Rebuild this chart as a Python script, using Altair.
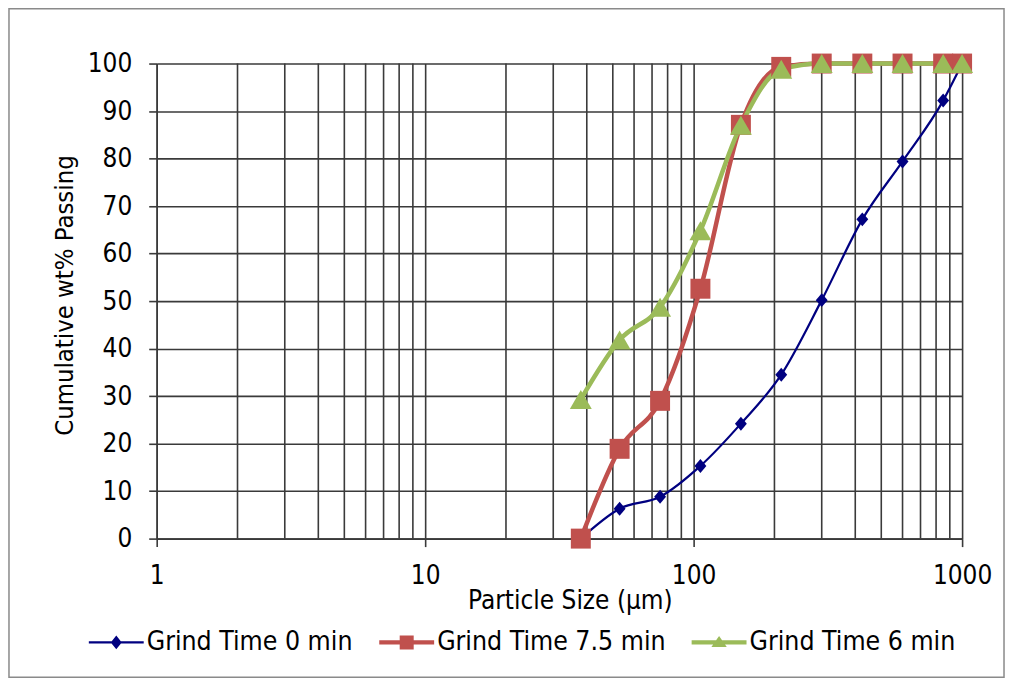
import altair as alt
import pandas as pd

# ---- data ----
sizes_um = [38, 53, 75, 106, 150, 212, 300, 425, 600, 850, 1000]
grind_0 = [0, 6.3, 8.8, 15.3, 24.2, 34.5, 50.2, 67.2, 79.4, 92.2, 100]
grind_7_5 = [0, 18.9, 29.0, 52.6, 87.1, 99.3, 100, 100, 100, 100, 100]
grind_6 = [29.3, 41.8, 48.7, 64.8, 87.0, 98.8, 100, 100, 100, 100, 100]
series_names = ["Grind Time 0 min", "Grind Time 7.5 min", "Grind Time 6 min"]
series_values = [grind_0, grind_7_5, grind_6]
y_ticks = list(range(0, 101, 10))
x_major = [1, 10, 100, 1000]
x_minor = [2, 3, 4, 5, 6, 7, 8, 9, 20, 30, 40, 50, 60, 70, 80, 90,
           200, 300, 400, 500, 600, 700, 800, 900]

rows = []
for name, vals in zip(series_names, series_values):
    for s, v in zip(sizes_um, vals):
        rows.append({"series": name, "size": s, "value": v})
df = pd.DataFrame(rows)
minor_df = pd.DataFrame({"size": x_minor})

# ---- styles ----
FONT = "DejaVu Sans Condensed"
GRID = "#3a3a3a"
GW = 1.6
colors = ["#000080", "#C0504D", "#9BBB59"]
line_widths = [2.2, 4.5, 4.5]
point_shapes = ["M0,-1L0.85,0L0,1L-0.85,0Z", "square", "triangle-up"]
point_sizes = [196, 400, 484]
legend_shapes = [
    "M-1,-0.04H1V0.04H-1Z M0,-0.25L0.2,0L0,0.25L-0.2,0Z",
    "M-1,-0.075H1V0.075H-1Z M-0.255,-0.255H0.255V0.255H-0.255Z",
    "M-1,-0.08H1V0.08H-1Z M0,-0.23L0.28,0.17L-0.28,0.17Z",
]

xscale = alt.Scale(type="log", domain=[1, 1000], nice=False)
yscale = alt.Scale(domain=[0, 100], nice=False)

xaxis = alt.Axis(
    values=x_major, format="d", grid=True, gridColor=GRID, gridWidth=GW,
    tickSize=8, tickColor=GRID, tickWidth=GW, domainColor=GRID, domainWidth=GW,
    labelFont=FONT, labelFontSize=26, labelColor="#000", labelPadding=37,
    labelBaseline="alphabetic", labelFlush=False, labelOverlap=False,
    title="Particle Size (µm)", titleFont=FONT, titleFontSize=26,
    titleFontWeight="normal", titleColor="#000", titleX=414, titleY=70,
    titleBaseline="alphabetic", titleAlign="center",
)
yaxis = alt.Axis(
    values=y_ticks, grid=True, gridColor=GRID, gridWidth=GW,
    tickSize=8, tickColor=GRID, tickWidth=GW, domainColor=GRID, domainWidth=GW,
    labelFont=FONT, labelFontSize=26, labelColor="#000", labelPadding=17,
    title="Cumulative wt% Passing", titleFont=FONT, titleFontSize=25.5,
    titleFontWeight="normal", titleColor="#000", titleX=-84, titleY=232,
    titleBaseline="alphabetic", titleAlign="center",
)

X = alt.X("size:Q", scale=xscale, axis=xaxis)
Y = alt.Y("value:Q", scale=yscale, axis=yaxis)

frame = alt.Chart(alt.Data(values=[{"a": 1}])).mark_rect(
    fillOpacity=0, stroke="#8a8a8a", strokeWidth=1.5
).encode(x=alt.value(-148), x2=alt.value(849), y=alt.value(-55), y2=alt.value(615))

minor = alt.Chart(minor_df).mark_rule(color=GRID, strokeWidth=GW).encode(x=X)

legend_props = dict(
    orient="none", legendX=-68, legendY=552.5, direction="horizontal",
    columns=3, title=None, symbolSize=3025, symbolStrokeWidth=0,
    labelFont=FONT, labelFontSize=26.5, labelColor="#000",
    labelOffset=3, columnPadding=26, labelLimit=1000, padding=0,
    rowPadding=0, symbolOpacity=1,
)

# invisible layer that only carries the legend
legend_layer = alt.Chart(df).mark_point(
    filled=True, opacity=0, strokeWidth=0
).encode(
    x=X, y=Y,
    color=alt.Color(
        "series:N",
        scale=alt.Scale(domain=series_names, range=colors),
        legend=alt.Legend(**legend_props),
    ),
    shape=alt.Shape(
        "series:N",
        scale=alt.Scale(domain=series_names, range=legend_shapes),
        legend=alt.Legend(**legend_props),
    ),
)

lines = []
points = []
for i, name in enumerate(series_names):
    sub = df[df["series"] == name]
    lines.append(
        alt.Chart(sub).mark_line(
            interpolate="monotone", color=colors[i], strokeWidth=line_widths[i]
        ).encode(x=X, y=Y)
    )
    points.append(
        alt.Chart(sub).mark_point(
            filled=True, shape=point_shapes[i], size=point_sizes[i],
            color=colors[i], opacity=1, strokeWidth=0
        ).encode(x=X, y=Y)
    )

chart = alt.layer(frame, minor, legend_layer, *lines, *points).properties(
    width=807, height=476,
    padding={"left": 8, "top": 7, "right": 6, "bottom": 3},
    background="white",
).configure_view(stroke=None)

chart.save("out.html", embed_options={"renderer": "svg", "actions": False})
